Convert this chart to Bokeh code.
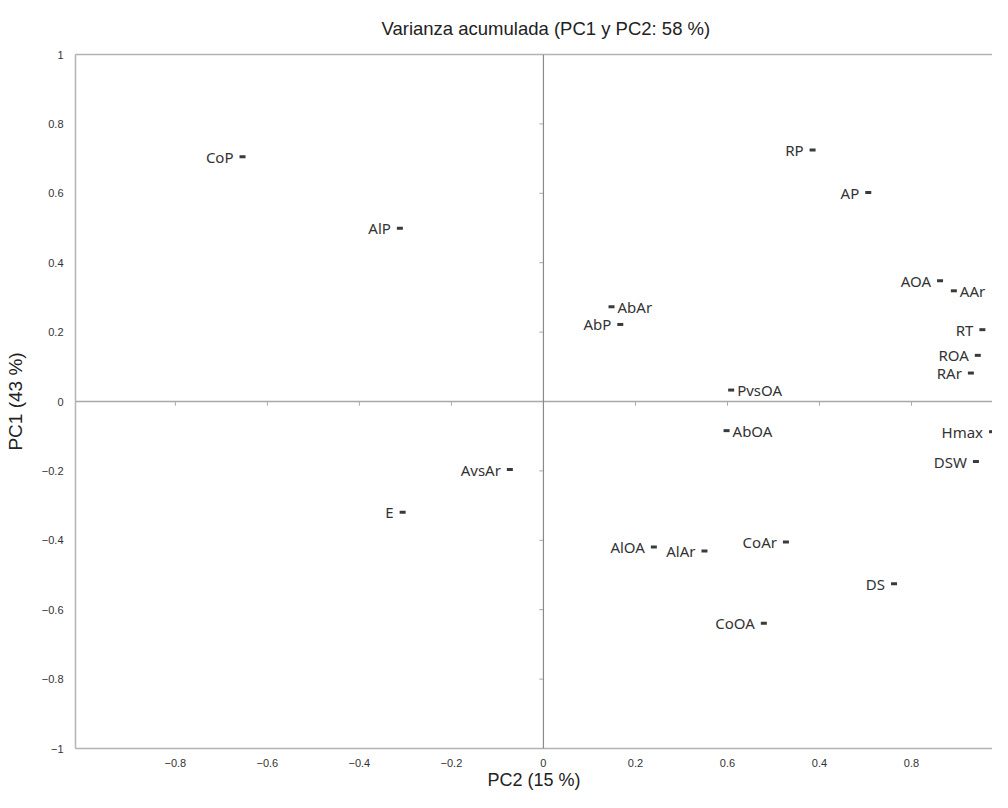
from bokeh.plotting import figure
from bokeh.models import Range1d, FixedTicker, LinearAxis, Span, ColumnDataSource
from bokeh.core.properties import value
from bokeh.embed import file_html
from bokeh.resources import INLINE

# ---- data -------------------------------------------------------------
variables = ["CoP", "AlP", "RP", "AP", "AOA", "AAr", "RT", "ROA", "RAr", "Hmax",
             "DSW", "AbAr", "AbP", "PvsOA", "AbOA", "AvsAr", "E", "AlOA", "AlAr",
             "CoAr", "DS", "CoOA"]
pc2 = [-0.654, -0.312, 0.585, 0.706, 0.862, 0.892, 0.954, 0.944, 0.929, 0.975,
       0.940, 0.148, 0.167, 0.408, 0.398, -0.073, -0.306, 0.240, 0.350,
       0.527, 0.762, 0.479]
pc1 = [0.705, 0.499, 0.725, 0.602, 0.348, 0.319, 0.207, 0.133, 0.082, -0.087,
       -0.173, 0.273, 0.222, 0.033, -0.084, -0.196, -0.319, -0.419, -0.431,
       -0.405, -0.525, -0.639]
label_side = ["left", "left", "left", "left", "left", "right", "left", "left",
              "left", "left", "left", "right", "left", "right", "right", "left",
              "left", "left", "left", "left", "left", "left"]

y_ticks = [-1, -0.8, -0.6, -0.4, -0.2, 0, 0.2, 0.4, 0.6, 0.8, 1]
x_ticks = [-0.8, -0.6, -0.4, -0.2, 0, 0.2, 0.4, 0.6, 0.8]
x_tick_labels = {0.4: "0.6", 0.6: "0.4"}   # as printed in the original
inner_ticks = [-0.8, -0.6, -0.4, -0.2, 0.2, 0.4, 0.6, 0.8]

title_text = "Varianza acumulada (PC1 y PC2: 58 %)"
x_label = "PC2 (15 %)"
y_label = "PC1 (43 %)"

# ---- figure -----------------------------------------------------------
AXIS_COL = "#b3b3b3"
TXT = "#222222"
LABEL_FONT = "Noto Sans"

p = figure(width=992, height=792, output_backend="svg", toolbar_location=None,
           x_range=Range1d(-1.017, 0.976), y_range=Range1d(-1, 1),
           min_border_left=75, min_border_right=0, min_border_top=54,
           min_border_bottom=40, background_fill_color="white",
           border_fill_color="white")
p.outline_line_color = None
p.grid.visible = False

p.title.text = title_text
p.title.align = "left"
p.title.offset = 306
p.title.vertical_align = "top"
p.title.text_font = "Liberation Sans"
p.title.text_font_size = "18.5px"
p.title.text_font_style = "normal"
p.title.text_color = TXT
p.title.standoff = 28

# left axis
p.yaxis.ticker = FixedTicker(ticks=y_ticks)
p.yaxis.axis_label = y_label
p.yaxis.axis_label_text_font = "Liberation Sans"
p.yaxis.axis_label_text_font_size = "19px"
p.yaxis.axis_label_text_font_style = "normal"
p.yaxis.axis_label_text_color = TXT
p.yaxis.axis_label_standoff = 13
p.yaxis.major_label_text_font = "Liberation Sans"
p.yaxis.major_label_text_font_size = "11px"
p.yaxis.major_label_text_color = "#333333"
p.yaxis.major_label_standoff = 6
p.yaxis.major_tick_line_color = None
p.yaxis.minor_tick_line_color = None
p.yaxis.axis_line_color = AXIS_COL
p.yaxis.axis_line_width = 1.5

# bottom axis
p.xaxis.ticker = FixedTicker(ticks=x_ticks)
p.xaxis.major_label_overrides = x_tick_labels
p.xaxis.axis_label = x_label
p.xaxis.axis_label_text_font = "Liberation Sans"
p.xaxis.axis_label_text_font_size = "18px"
p.xaxis.axis_label_text_font_style = "normal"
p.xaxis.axis_label_text_color = TXT
p.xaxis.axis_label_standoff = 0
p.xaxis.major_label_text_font = "Liberation Sans"
p.xaxis.major_label_text_font_size = "11px"
p.xaxis.major_label_text_color = "#333333"
p.xaxis.major_label_standoff = 4
p.xaxis.major_tick_line_color = None
p.xaxis.minor_tick_line_color = None
p.xaxis.axis_line_color = AXIS_COL
p.xaxis.axis_line_width = 1.5

# top frame line
top = LinearAxis(ticker=FixedTicker(ticks=[]), axis_line_color=AXIS_COL,
                 axis_line_width=1.5, major_tick_line_color=None,
                 minor_tick_line_color=None, major_label_text_color=None)
p.add_layout(top, "above")

# zero lines
p.add_layout(Span(location=0, dimension="width", line_color="#a8a8a8", line_width=1.5))
p.add_layout(Span(location=0, dimension="height", line_color="#8a8a8a", line_width=1.2))

# small tick marks on the zero lines
p.segment(x0=inner_ticks, x1=inner_ticks, y0=[0] * len(inner_ticks),
          y1=[-0.012] * len(inner_ticks), line_color="#a8a8a8", line_width=1)
p.segment(x0=[0] * len(inner_ticks), x1=[-0.009] * len(inner_ticks),
          y0=inner_ticks, y1=inner_ticks, line_color="#a8a8a8", line_width=1)

# points (short dashes)
src = ColumnDataSource(dict(x=pc2, y=pc1, name=variables))
p.rect(x="x", y="y", width=6, height=3, width_units="screen",
       height_units="screen", source=src, fill_color="#3a3a3a",
       line_color=None)

left_src = ColumnDataSource(dict(
    x=[a for a, s in zip(pc2, label_side) if s == "left"],
    y=[b for b, s in zip(pc1, label_side) if s == "left"],
    name=[n for n, s in zip(variables, label_side) if s == "left"]))
right_src = ColumnDataSource(dict(
    x=[a for a, s in zip(pc2, label_side) if s == "right"],
    y=[b for b, s in zip(pc1, label_side) if s == "right"],
    name=[n for n, s in zip(variables, label_side) if s == "right"]))

p.text(x="x", y="y", text="name", source=left_src, text_align="right",
       text_baseline="middle", x_offset=-9, y_offset=0,
       text_font=value(LABEL_FONT), text_font_size="15px", text_color="#333333")
p.text(x="x", y="y", text="name", source=right_src, text_align="left",
       text_baseline="middle", x_offset=6, y_offset=0,
       text_font=value(LABEL_FONT), text_font_size="15px", text_color="#333333")

open("out.html", "w").write(file_html(p, INLINE))
